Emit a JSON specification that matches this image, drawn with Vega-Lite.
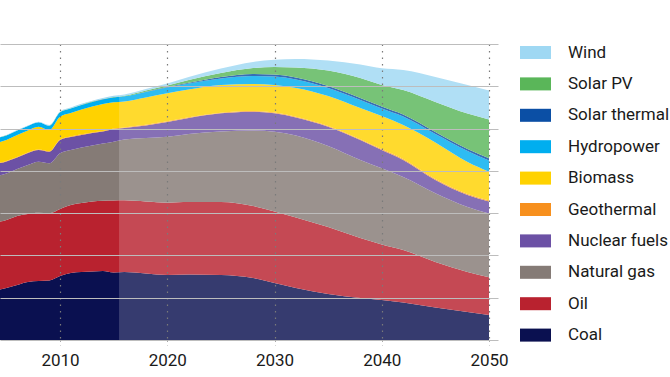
{
"$schema": "https://vega.github.io/schema/vega-lite/v6.json",
"width": 489, "height": 296,
"autosize": {"type": "none"},
"padding": {"left": 0, "top": 44, "right": 181, "bottom": 37},
"background": "white",
"config": {"view": {"stroke": null}, "font": "Roboto"},
"datasets": {"energy": [
{"year":2004,"source":"Coal","value":117.1},{"year":2004,"source":"Oil","value":160.8},{"year":2004,"source":"Natural gas","value":110.0},{"year":2004,"source":"Nuclear fuels","value":28.4},{"year":2004,"source":"Geothermal","value":1.4},{"year":2004,"source":"Biomass","value":48.2},{"year":2004,"source":"Hydropower","value":11.0},{"year":2004,"source":"Solar thermal","value":0.1},{"year":2004,"source":"Solar PV","value":0.1},{"year":2004,"source":"Wind","value":0.7},
{"year":2005,"source":"Coal","value":123.0},{"year":2005,"source":"Oil","value":160.8},{"year":2005,"source":"Natural gas","value":110.0},{"year":2005,"source":"Nuclear fuels","value":28.4},{"year":2005,"source":"Geothermal","value":1.4},{"year":2005,"source":"Biomass","value":49.4},{"year":2005,"source":"Hydropower","value":10.8},{"year":2005,"source":"Solar thermal","value":0.1},{"year":2005,"source":"Solar PV","value":0.1},{"year":2005,"source":"Wind","value":0.8},
{"year":2006,"source":"Coal","value":130.1},{"year":2006,"source":"Oil","value":163.2},{"year":2006,"source":"Natural gas","value":111.1},{"year":2006,"source":"Nuclear fuels","value":27.2},{"year":2006,"source":"Geothermal","value":1.4},{"year":2006,"source":"Biomass","value":51.8},{"year":2006,"source":"Hydropower","value":10.7},{"year":2006,"source":"Solar thermal","value":0.1},{"year":2006,"source":"Solar PV","value":0.1},{"year":2006,"source":"Wind","value":0.9},
{"year":2007,"source":"Coal","value":137.2},{"year":2007,"source":"Oil","value":160.8},{"year":2007,"source":"Natural gas","value":115.9},{"year":2007,"source":"Nuclear fuels","value":28.4},{"year":2007,"source":"Geothermal","value":1.4},{"year":2007,"source":"Biomass","value":51.8},{"year":2007,"source":"Hydropower","value":10.5},{"year":2007,"source":"Solar thermal","value":0.1},{"year":2007,"source":"Solar PV","value":0.1},{"year":2007,"source":"Wind","value":1.1},
{"year":2008,"source":"Coal","value":139.5},{"year":2008,"source":"Oil","value":161.5},{"year":2008,"source":"Natural gas","value":120.6},{"year":2008,"source":"Nuclear fuels","value":27.7},{"year":2008,"source":"Geothermal","value":1.4},{"year":2008,"source":"Biomass","value":53.7},{"year":2008,"source":"Hydropower","value":10.4},{"year":2008,"source":"Solar thermal","value":0.1},{"year":2008,"source":"Solar PV","value":0.2},{"year":2008,"source":"Wind","value":1.2},
{"year":2009,"source":"Coal","value":140.7},{"year":2009,"source":"Oil","value":158.9},{"year":2009,"source":"Natural gas","value":118.2},{"year":2009,"source":"Nuclear fuels","value":27.4},{"year":2009,"source":"Geothermal","value":1.4},{"year":2009,"source":"Biomass","value":49.9},{"year":2009,"source":"Hydropower","value":10.2},{"year":2009,"source":"Solar thermal","value":0.1},{"year":2009,"source":"Solar PV","value":0.2},{"year":2009,"source":"Wind","value":1.3},
{"year":2010,"source":"Coal","value":151.4},{"year":2010,"source":"Oil","value":158.4},{"year":2010,"source":"Natural gas","value":131.7},{"year":2010,"source":"Nuclear fuels","value":31.5},{"year":2010,"source":"Geothermal","value":1.4},{"year":2010,"source":"Biomass","value":53.7},{"year":2010,"source":"Hydropower","value":10.3},{"year":2010,"source":"Solar thermal","value":0.1},{"year":2010,"source":"Solar PV","value":0.4},{"year":2010,"source":"Wind","value":1.5},
{"year":2011,"source":"Coal","value":158.4},{"year":2011,"source":"Oil","value":160.8},{"year":2011,"source":"Natural gas","value":130.1},{"year":2011,"source":"Nuclear fuels","value":30.7},{"year":2011,"source":"Geothermal","value":1.4},{"year":2011,"source":"Biomass","value":55.3},{"year":2011,"source":"Hydropower","value":10.5},{"year":2011,"source":"Solar thermal","value":0.1},{"year":2011,"source":"Solar PV","value":0.5},{"year":2011,"source":"Wind","value":1.8},
{"year":2012,"source":"Coal","value":160.8},{"year":2012,"source":"Oil","value":163.2},{"year":2012,"source":"Natural gas","value":131.3},{"year":2012,"source":"Nuclear fuels","value":29.6},{"year":2012,"source":"Geothermal","value":1.4},{"year":2012,"source":"Biomass","value":58.9},{"year":2012,"source":"Hydropower","value":10.6},{"year":2012,"source":"Solar thermal","value":0.1},{"year":2012,"source":"Solar PV","value":0.6},{"year":2012,"source":"Wind","value":2.0},
{"year":2013,"source":"Coal","value":162.0},{"year":2013,"source":"Oil","value":165.5},{"year":2013,"source":"Natural gas","value":132.4},{"year":2013,"source":"Nuclear fuels","value":29.6},{"year":2013,"source":"Geothermal","value":1.4},{"year":2013,"source":"Biomass","value":61.3},{"year":2013,"source":"Hydropower","value":10.8},{"year":2013,"source":"Solar thermal","value":0.1},{"year":2013,"source":"Solar PV","value":0.7},{"year":2013,"source":"Wind","value":2.2},
{"year":2014,"source":"Coal","value":163.2},{"year":2014,"source":"Oil","value":166.0},{"year":2014,"source":"Natural gas","value":135.5},{"year":2014,"source":"Nuclear fuels","value":28.4},{"year":2014,"source":"Geothermal","value":1.4},{"year":2014,"source":"Biomass","value":63.6},{"year":2014,"source":"Hydropower","value":10.9},{"year":2014,"source":"Solar thermal","value":0.1},{"year":2014,"source":"Solar PV","value":0.8},{"year":2014,"source":"Wind","value":2.5},
{"year":2015,"source":"Coal","value":159.6},{"year":2015,"source":"Oil","value":170.3},{"year":2015,"source":"Natural gas","value":139.1},{"year":2015,"source":"Nuclear fuels","value":30.0},{"year":2015,"source":"Geothermal","value":1.4},{"year":2015,"source":"Biomass","value":61.7},{"year":2015,"source":"Hydropower","value":11.4},{"year":2015,"source":"Solar thermal","value":0.1},{"year":2015,"source":"Solar PV","value":1.1},{"year":2015,"source":"Wind","value":2.7},
{"year":2016,"source":"Coal","value":160.8},{"year":2016,"source":"Oil","value":169.6},{"year":2016,"source":"Natural gas","value":143.8},{"year":2016,"source":"Nuclear fuels","value":27.2},{"year":2016,"source":"Geothermal","value":1.4},{"year":2016,"source":"Biomass","value":61.3},{"year":2016,"source":"Hydropower","value":12.1},{"year":2016,"source":"Solar thermal","value":0.2},{"year":2016,"source":"Solar PV","value":1.3},{"year":2016,"source":"Wind","value":3.0},
{"year":2018,"source":"Coal","value":157.3},{"year":2018,"source":"Oil","value":170.3},{"year":2018,"source":"Natural gas","value":150.2},{"year":2018,"source":"Nuclear fuels","value":29.6},{"year":2018,"source":"Geothermal","value":1.4},{"year":2018,"source":"Biomass","value":64.8},{"year":2018,"source":"Hydropower","value":13.0},{"year":2018,"source":"Solar thermal","value":0.7},{"year":2018,"source":"Solar PV","value":2.8},{"year":2018,"source":"Wind","value":3.5},
{"year":2020,"source":"Coal","value":153.7},{"year":2020,"source":"Oil","value":171.0},{"year":2020,"source":"Natural gas","value":156.1},{"year":2020,"source":"Nuclear fuels","value":34.8},{"year":2020,"source":"Geothermal","value":1.5},{"year":2020,"source":"Biomass","value":66.3},{"year":2020,"source":"Hydropower","value":13.5},{"year":2020,"source":"Solar thermal","value":1.2},{"year":2020,"source":"Solar PV","value":4.0},{"year":2020,"source":"Wind","value":4.3},
{"year":2022,"source":"Coal","value":154.9},{"year":2022,"source":"Oil","value":171.5},{"year":2022,"source":"Natural gas","value":160.8},{"year":2022,"source":"Nuclear fuels","value":37.8},{"year":2022,"source":"Geothermal","value":1.7},{"year":2022,"source":"Biomass","value":65.7},{"year":2022,"source":"Hydropower","value":14.2},{"year":2022,"source":"Solar thermal","value":1.7},{"year":2022,"source":"Solar PV","value":6.6},{"year":2022,"source":"Wind","value":7.1},
{"year":2025,"source":"Coal","value":153.7},{"year":2025,"source":"Oil","value":172.6},{"year":2025,"source":"Natural gas","value":166.7},{"year":2025,"source":"Nuclear fuels","value":43.0},{"year":2025,"source":"Geothermal","value":1.7},{"year":2025,"source":"Biomass","value":65.3},{"year":2025,"source":"Hydropower","value":15.4},{"year":2025,"source":"Solar thermal","value":3.5},{"year":2025,"source":"Solar PV","value":9.5},{"year":2025,"source":"Wind","value":10.5},
{"year":2028,"source":"Coal","value":146.6},{"year":2028,"source":"Oil","value":170.3},{"year":2028,"source":"Natural gas","value":178.5},{"year":2028,"source":"Nuclear fuels","value":44.5},{"year":2028,"source":"Geothermal","value":1.8},{"year":2028,"source":"Biomass","value":63.7},{"year":2028,"source":"Hydropower","value":18.9},{"year":2028,"source":"Solar thermal","value":4.7},{"year":2028,"source":"Solar PV","value":14.0},{"year":2028,"source":"Wind","value":14.5},
{"year":2030,"source":"Coal","value":134.8},{"year":2030,"source":"Oil","value":169.1},{"year":2030,"source":"Natural gas","value":188.7},{"year":2030,"source":"Nuclear fuels","value":43.5},{"year":2030,"source":"Geothermal","value":1.9},{"year":2030,"source":"Biomass","value":65.0},{"year":2030,"source":"Hydropower","value":20.1},{"year":2030,"source":"Solar thermal","value":4.7},{"year":2030,"source":"Solar PV","value":18.0},{"year":2030,"source":"Wind","value":17.0},
{"year":2032,"source":"Coal","value":123.0},{"year":2032,"source":"Oil","value":166.7},{"year":2032,"source":"Natural gas","value":193.9},{"year":2032,"source":"Nuclear fuels","value":42.6},{"year":2032,"source":"Geothermal","value":1.9},{"year":2032,"source":"Biomass","value":67.9},{"year":2032,"source":"Hydropower","value":20.1},{"year":2032,"source":"Solar thermal","value":4.7},{"year":2032,"source":"Solar PV","value":23.6},{"year":2032,"source":"Wind","value":20.1},
{"year":2035,"source":"Coal","value":108.8},{"year":2035,"source":"Oil","value":158.4},{"year":2035,"source":"Natural gas","value":191.6},{"year":2035,"source":"Nuclear fuels","value":45.6},{"year":2035,"source":"Geothermal","value":1.9},{"year":2035,"source":"Biomass","value":70.7},{"year":2035,"source":"Hydropower","value":18.9},{"year":2035,"source":"Solar thermal","value":4.7},{"year":2035,"source":"Solar PV","value":36.7},{"year":2035,"source":"Wind","value":23.6},
{"year":2038,"source":"Coal","value":99.3},{"year":2038,"source":"Oil","value":141.9},{"year":2038,"source":"Natural gas","value":184.5},{"year":2038,"source":"Nuclear fuels","value":47.3},{"year":2038,"source":"Geothermal","value":2.0},{"year":2038,"source":"Biomass","value":73.7},{"year":2038,"source":"Hydropower","value":18.9},{"year":2038,"source":"Solar thermal","value":4.7},{"year":2038,"source":"Solar PV","value":47.3},{"year":2038,"source":"Wind","value":31.9},
{"year":2040,"source":"Coal","value":94.6},{"year":2040,"source":"Oil","value":131.3},{"year":2040,"source":"Natural gas","value":180.2},{"year":2040,"source":"Nuclear fuels","value":43.3},{"year":2040,"source":"Geothermal","value":2.0},{"year":2040,"source":"Biomass","value":78.4},{"year":2040,"source":"Hydropower","value":17.7},{"year":2040,"source":"Solar thermal","value":4.7},{"year":2040,"source":"Solar PV","value":50.8},{"year":2040,"source":"Wind","value":39.5},
{"year":2042,"source":"Coal","value":88.7},{"year":2042,"source":"Oil","value":124.2},{"year":2042,"source":"Natural gas","value":172.6},{"year":2042,"source":"Nuclear fuels","value":40.2},{"year":2042,"source":"Geothermal","value":2.1},{"year":2042,"source":"Biomass","value":80.5},{"year":2042,"source":"Hydropower","value":20.1},{"year":2042,"source":"Solar thermal","value":4.7},{"year":2042,"source":"Solar PV","value":57.9},{"year":2042,"source":"Wind","value":47.3},
{"year":2045,"source":"Coal","value":76.9},{"year":2045,"source":"Oil","value":107.6},{"year":2045,"source":"Natural gas","value":162.5},{"year":2045,"source":"Nuclear fuels","value":31.5},{"year":2045,"source":"Geothermal","value":2.1},{"year":2045,"source":"Biomass","value":86.6},{"year":2045,"source":"Hydropower","value":20.1},{"year":2045,"source":"Solar thermal","value":4.7},{"year":2045,"source":"Solar PV","value":70.9},{"year":2045,"source":"Wind","value":59.1},
{"year":2048,"source":"Coal","value":66.2},{"year":2048,"source":"Oil","value":94.6},{"year":2048,"source":"Natural gas","value":153.7},{"year":2048,"source":"Nuclear fuels","value":28.4},{"year":2048,"source":"Geothermal","value":2.1},{"year":2048,"source":"Biomass","value":75.9},{"year":2048,"source":"Hydropower","value":26.0},{"year":2048,"source":"Solar thermal","value":4.7},{"year":2048,"source":"Solar PV","value":84.0},{"year":2048,"source":"Wind","value":67.4},
{"year":2050,"source":"Coal","value":59.1},{"year":2050,"source":"Oil","value":89.2},{"year":2050,"source":"Natural gas","value":150.9},{"year":2050,"source":"Nuclear fuels","value":28.4},{"year":2050,"source":"Geothermal","value":2.1},{"year":2050,"source":"Biomass","value":68.3},{"year":2050,"source":"Hydropower","value":26.5},{"year":2050,"source":"Solar thermal","value":5.2},{"year":2050,"source":"Solar PV","value":91.8},{"year":2050,"source":"Wind","value":68.6}
], "shade": [{"from": 2015.5, "to": 2050, "low": 0, "high": 700}]},
"layer": [
  {"data": {"name": "energy"},
   "transform": [
     {"lookup": "source", "from": {"data": {"values": [
       {"source":"Coal","k":1},{"source":"Oil","k":2},{"source":"Natural gas","k":3},{"source":"Nuclear fuels","k":4},{"source":"Geothermal","k":5},
       {"source":"Biomass","k":6},{"source":"Hydropower","k":7},{"source":"Solar thermal","k":8},{"source":"Solar PV","k":9},{"source":"Wind","k":10}]},
       "key": "source", "fields": ["k"]}}
   ],
   "mark": {"type": "area", "clip": true, "interpolate": "monotone"},
   "encoding": {
     "x": {"field": "year", "type": "quantitative",
       "scale": {"domain": [2004.4, 2050], "nice": false, "zero": false},
       "axis": {"values": [2010, 2020, 2030, 2040, 2050], "format": "d", "title": null,
         "grid": true, "gridColor": "#7a7a7a", "gridDash": [1.5, 5], "gridWidth": 1.2,
         "domain": false, "ticks": true, "tickSize": 5, "tickColor": "#aaaaaa", "tickDash": [1.5, 3],
         "labelFont": "Roboto", "labelFontSize": 17, "labelColor": "#1a1a1a", "labelPadding": 7,
         "labelFlush": false, "labelOverlap": false, "zindex": 1}},
     "y": {"field": "value", "type": "quantitative", "stack": "zero",
       "scale": {"domain": [0, 700], "nice": false},
       "axis": {"orient": "right", "values": [0, 100, 200, 300, 400, 500, 600, 700], "title": null,
         "grid": true, "gridColor": "#bdbdbd", "gridWidth": 1.2, "domain": false, "labels": false,
         "ticks": true, "tickSize": 9, "tickColor": "#bdbdbd", "zindex": 1}},
     "order": {"field": "k", "type": "quantitative", "sort": "ascending"},
     "color": {"field": "source", "type": "nominal",
       "scale": {"domain": ["Wind", "Solar PV", "Solar thermal", "Hydropower", "Biomass", "Geothermal", "Nuclear fuels", "Natural gas", "Oil", "Coal"],
         "range": ["#9fd8f3", "#5ab659", "#0b4fa5", "#00aeef", "#ffd200", "#f7901e", "#6c51a5", "#857b76", "#b9222f", "#0a1050"]},
       "legend": {"orient": "none", "legendX": 520, "legendY": -7, "title": null,
         "symbolType": "M-1,-0.42H1V0.42H-1Z", "symbolSize": 961, "symbolStrokeWidth": 0, "symbolOpacity": 1,
         "labelFont": "Roboto", "labelFontSize": 17, "labelColor": "#1a1a1a", "labelOffset": 17,
         "rowPadding": 7.4, "padding": 0, "labelLimit": 200}}
   }},
  {"data": {"name": "shade"},
   "mark": {"type": "rect", "color": "white", "opacity": 0.18, "clip": true},
   "encoding": {
     "x": {"field": "from", "type": "quantitative", "scale": {"domain": [2004.4, 2050], "nice": false, "zero": false}},
     "x2": {"field": "to"},
     "y": {"field": "low", "type": "quantitative", "scale": {"domain": [0, 700], "nice": false}},
     "y2": {"field": "high"}
   }}
]
}
